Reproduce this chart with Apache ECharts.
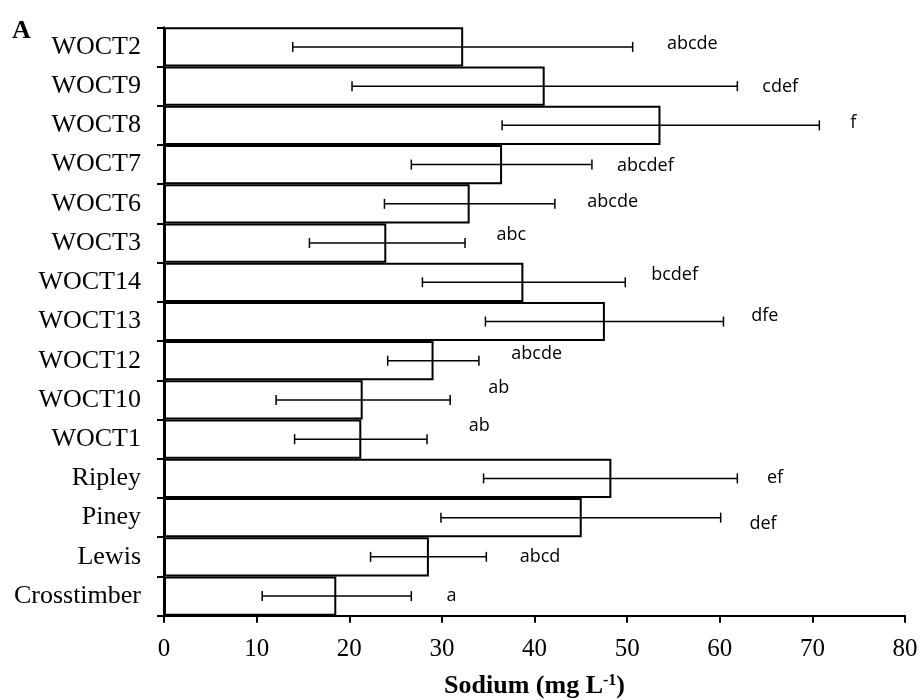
<!DOCTYPE html>
<html>
<head>
<meta charset="utf-8">
<script src="https://cdn.jsdelivr.net/npm/echarts@6/dist/echarts.min.js"></script>
<style>html,body{margin:0;padding:0;background:#fff}#c{width:923px;height:700px}</style>
</head>
<body>
<div id="c"></div>
<script>
// Data, listed bottom-to-top as drawn on the category axis
var categories = ['Crosstimber','Lewis','Piney','Ripley','WOCT1','WOCT10','WOCT12','WOCT13','WOCT14','WOCT3','WOCT6','WOCT7','WOCT8','WOCT9','WOCT2'];
var sodium   = [18.6, 28.6, 45.1, 48.3, 21.3, 21.45, 29.1, 47.6, 38.8, 24.0, 33.0, 36.5, 53.6, 41.1, 32.3];
var errLow   = [10.6, 22.3, 29.9, 34.5, 14.1, 12.1, 24.15, 34.7, 27.9, 15.7, 23.8, 26.7, 36.5, 20.3, 13.9];
var errHigh  = [26.7, 34.8, 60.1, 61.9, 28.4, 30.9, 34.0, 60.4, 49.8, 32.5, 42.2, 46.2, 70.75, 61.9, 50.6];
var letters  = ['a','abcd','def','ef','ab','ab','abcde','dfe','bcdef','abc','abcde','abcdef','f','cdef','abcde'];
var letterX  = [30.5, 38.4, 63.2, 65.1, 32.9, 35.0, 37.5, 63.4, 52.6, 35.9, 45.7, 48.9, 74.1, 64.6, 54.3];
var xTicks   = [0, 10, 20, 30, 40, 50, 60, 70, 80];

// label vertical nudges (px), kept apart from data
var letterDy = [0, 0, 6, -1, -13, -12, -6.5, -6, -7, -8, -2, 1, -2, 1, -3];

var serif = '"Liberation Serif", "Times New Roman", serif';
var chart = echarts.init(document.getElementById('c'), null, {renderer: 'canvas'});

var errData = categories.map(function (c, i) { return [i, errLow[i], errHigh[i]]; });
var letterData = categories.map(function (c, i) {
  return {
    value: [letterX[i], c],
    label: { offset: [0, letterDy[i]] }
  };
});

chart.setOption({
  animation: false,
  backgroundColor: '#fff',
  grid: { left: 164, right: 18, top: 27.3, bottom: 84.3, containLabel: false, outerBoundsMode: 'none' },
  xAxis: {
    type: 'value',
    min: xTicks[0], max: xTicks[xTicks.length - 1], interval: 10,
    axisLine: { show: true, lineStyle: { color: '#000', width: 2 } },
    axisTick: { show: true, length: 7, lineStyle: { color: '#000', width: 2 } },
    axisLabel: { color: '#000', fontFamily: serif, fontSize: 25, margin: 21 },
    splitLine: { show: false },
    name: '{b|Sodium (mg L}{s|-1}{b|)}',
    nameLocation: 'middle',
    nameGap: 57,
    nameTextStyle: {
      rich: {
        b: { fontFamily: serif, fontWeight: 'bold', fontSize: 26, color: '#000', lineHeight: 28 },
        s: { fontFamily: serif, fontWeight: 'bold', fontSize: 16, color: '#000', verticalAlign: 'top', lineHeight: 28 }
      }
    }
  },
  yAxis: {
    type: 'category',
    data: categories,
    boundaryGap: true,
    axisLine: { show: true, lineStyle: { color: '#000', width: 2 } },
    axisTick: { show: true, length: 7, alignWithLabel: false, lineStyle: { color: '#000', width: 2 } },
    axisLabel: { color: '#000', fontFamily: serif, fontSize: 26, margin: 23 },
    splitLine: { show: false }
  },
  graphic: [{
    type: 'text', left: 12, top: 18,
    style: { text: 'A', font: 'bold 26px ' + serif, fill: '#000' }
  }],
  series: [
    {
      type: 'bar',
      data: sodium,
      barWidth: '100%',
      barCategoryGap: '0%',
      itemStyle: { color: '#fff', borderColor: '#000', borderWidth: 2 },
      z: 2
    },
    {
      type: 'custom',
      data: errData,
      z: 3,
      renderItem: function (params, api) {
        var cat = api.value(0);
        var lo = api.coord([api.value(1), cat]);
        var hi = api.coord([api.value(2), cat]);
        var h = 5;
        var st = { stroke: '#000', lineWidth: 1.5 };
        return {
          type: 'group',
          children: [
            { type: 'line', shape: { x1: lo[0], y1: lo[1], x2: hi[0], y2: hi[1] }, style: st },
            { type: 'line', shape: { x1: lo[0], y1: lo[1] - h, x2: lo[0], y2: lo[1] + h }, style: st },
            { type: 'line', shape: { x1: hi[0], y1: hi[1] - h, x2: hi[0], y2: hi[1] + h }, style: st }
          ]
        };
      },
      encode: { x: [1, 2], y: 0 }
    },
    {
      type: 'scatter',
      data: letterData,
      symbolSize: 0,
      z: 4,
      label: {
        show: true,
        position: 'right',
        distance: 0,
        color: '#000',
        opacity: 1,
        fontFamily: '"Open Sans", sans-serif',
        fontSize: 18,
        formatter: function (p) { return letters[p.dataIndex]; }
      },
      emphasis: { disabled: true }
    }
  ]
});
</script>
</body>
</html>
